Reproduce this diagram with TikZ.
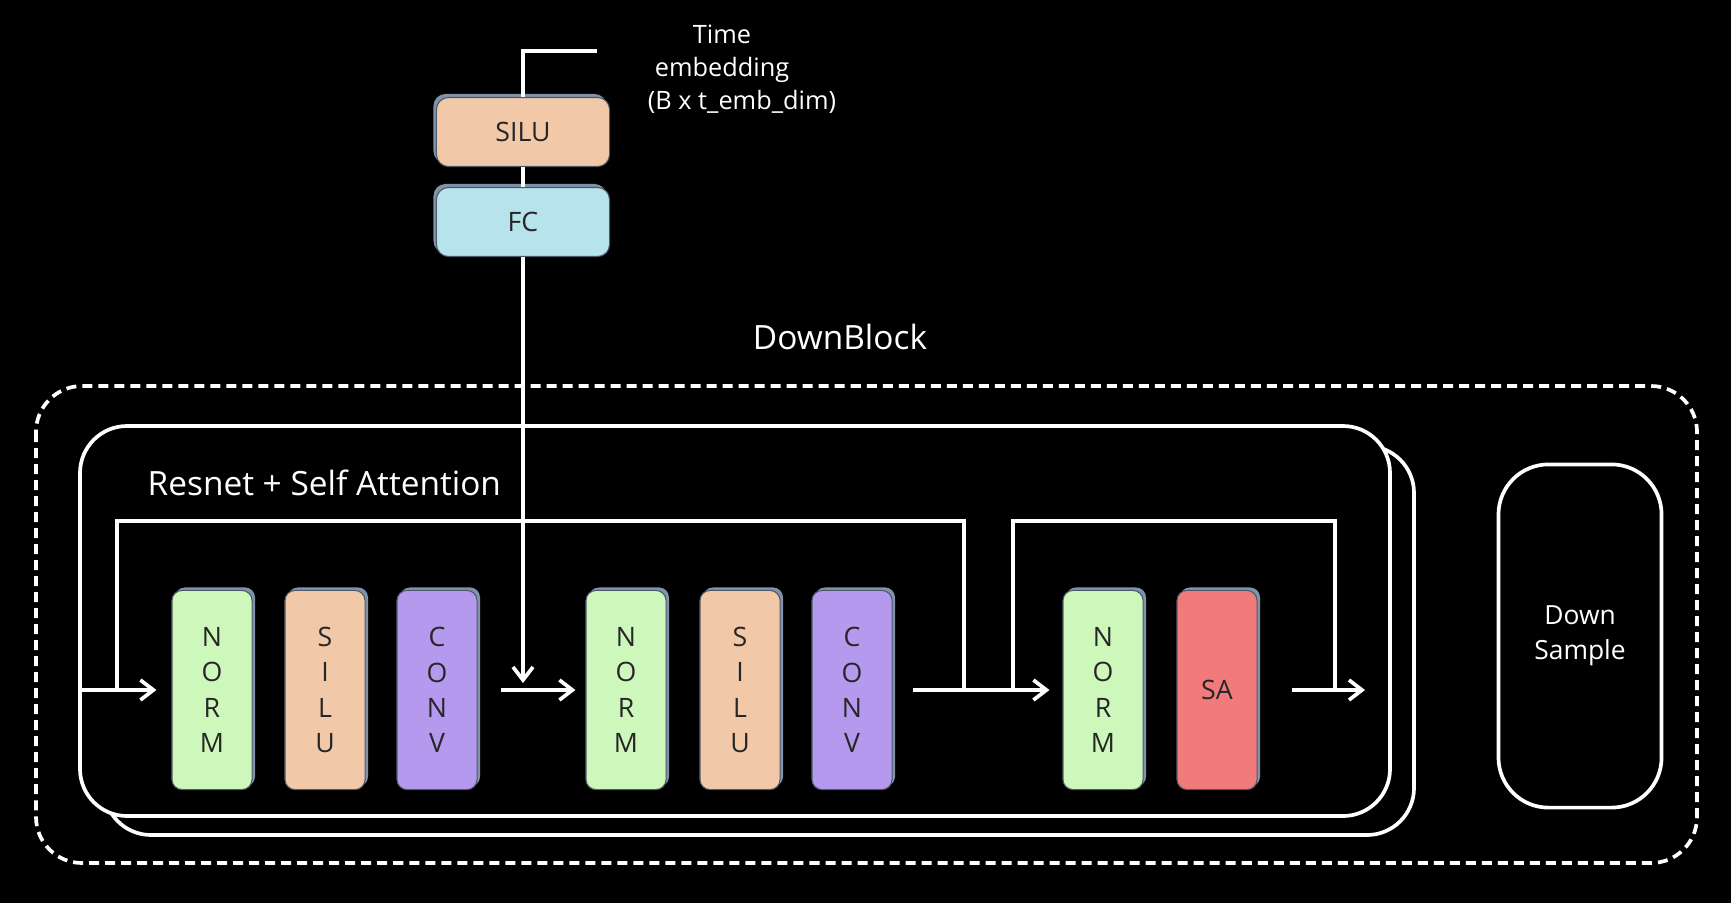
\documentclass[tikz,border=0pt]{standalone}
\usepackage{fontspec}
\setmainfont{Open Sans}
\usetikzlibrary{shadows,arrows.meta}

\definecolor{verdenorm}{HTML}{CDF7BB}
\definecolor{durazno}{HTML}{F1C9A9}
\definecolor{morado}{HTML}{B599EF}
\definecolor{rojosa}{HTML}{F17B7B}
\definecolor{celeste}{HTML}{B6E3EC}
\definecolor{sombra}{HTML}{8092AC}

\begin{document}
\begin{tikzpicture}[x=0.01cm,y=-0.01cm,
	flecha/.style={white, line width=1.05pt},
	punta/.style={-{Straight Barb[length=1.3mm,width=2mm]}},
	bloque/.style={draw=sombra!60!black, line width=0.3pt, rounded corners=1mm,
		minimum width=0.8cm, minimum height=1.99cm, align=center, text=black!85,
		font=\fontsize{7.6}{10}\selectfont},
	capa/.style={bloque, drop shadow={shadow xshift=0.3mm, shadow yshift=0.3mm, fill=sombra, opacity=1}},
	capatiempo/.style={bloque, minimum width=1.73cm, minimum height=0.69cm, rounded corners=1.2mm,
		drop shadow={shadow xshift=-0.3mm, shadow yshift=0.35mm, fill=sombra, opacity=1}},
	etiqueta/.style={text=white, align=center}]

				% Fondo negro
				\fill[black] (0,0) rectangle (1731,903);
	
				% Dibujar los marcos
				\draw[flecha, dash pattern=on 1mm off 0.6mm, rounded corners=0.46cm] (36,386) rectangle (1697,863);
				\draw[flecha, rounded corners=0.47cm] (104,446) rectangle (1414,835);
				\draw[flecha, rounded corners=0.47cm, fill=black] (80,426) rectangle (1390,816);
	
				% Dibujar etiquetas
				\node[etiqueta, font=\fontsize{9.5}{12}\selectfont] (titulo) at (840,337) {DownBlock};
				\node[etiqueta, anchor=west, inner sep=0pt, font=\fontsize{9.5}{11}\selectfont] (resnet) at (147,483) {Resnet + Self Attention};
				\node[etiqueta, font=\fontsize{7.2}{9.4}\selectfont] (tiempo) at (722,69) {Time\\embedding\\\hspace*{0.4cm}(B x t\_emb\_dim)};
	
				% Dibujar los bloques
				\node[capa, fill=verdenorm] (norm1) at (212,690) {N\\O\\R\\M};
				\node[capa, fill=durazno] (silu1) at (325,690) {S\\I\\L\\U};
				\node[capa, fill=morado] (conv1) at (437,690) {C\\O\\N\\V};
				\node[capa, fill=verdenorm] (norm2) at (626,690) {N\\O\\R\\M};
				\node[capa, fill=durazno] (silu2) at (740,690) {S\\I\\L\\U};
				\node[capa, fill=morado] (conv2) at (852,690) {C\\O\\N\\V};
				\node[capa, fill=verdenorm] (norm3) at (1103,690) {N\\O\\R\\M};
				\node[capa, fill=rojosa] (sa) at (1217,690) {SA};
				\node[capatiempo, fill=durazno] (tsilu) at (523,132) {SILU};
				\node[capatiempo, fill=celeste] (tfc) at (523,222) {FC};
				\node[draw=white, line width=1.05pt, rounded corners=0.5cm, minimum width=1.63cm, minimum height=3.43cm,
					etiqueta, font=\fontsize{7.5}{10}\selectfont] (bajada) at (1580,636) {Down\\Sample};
	
				% Dibujar las conexiones residuales
				\coordinate (res1a) at (117,690);
				\coordinate (res1b) at (964,690);
				\coordinate (res2a) at (1013,690);
				\coordinate (res2b) at (1335,690);
				\draw[flecha] (res1a) -- (117,521) -- (964,521) -- (res1b);
				\draw[flecha] (res2a) -- (1013,521) -- (1335,521) -- (res2b);
	
				% Dibujar las flechas principales
				\coordinate (entrada) at (80,690);
				\coordinate (salida) at (1365,690);
				\draw[flecha, punta, shorten >=1.5mm] (entrada) -- (norm1);
				\draw[flecha, punta, shorten <=2.3mm, shorten >=1mm] (conv1) -- (norm2);
				\draw[flecha, punta, shorten <=2mm, shorten >=1.3mm] (conv2) -- (norm3);
				\draw[flecha, punta, shorten <=3.4mm] (sa) -- (salida);
	
				% Dibujar el camino del tiempo
				\coordinate (temb) at (597,51);
				\coordinate (tunion) at (523,683);
				\draw[flecha] (temb) -| (tsilu);
				\draw[flecha] (tsilu) -- (tfc);
				\draw[flecha, punta] (tfc) -- (tunion);
	
			\end{tikzpicture}
\end{document}
